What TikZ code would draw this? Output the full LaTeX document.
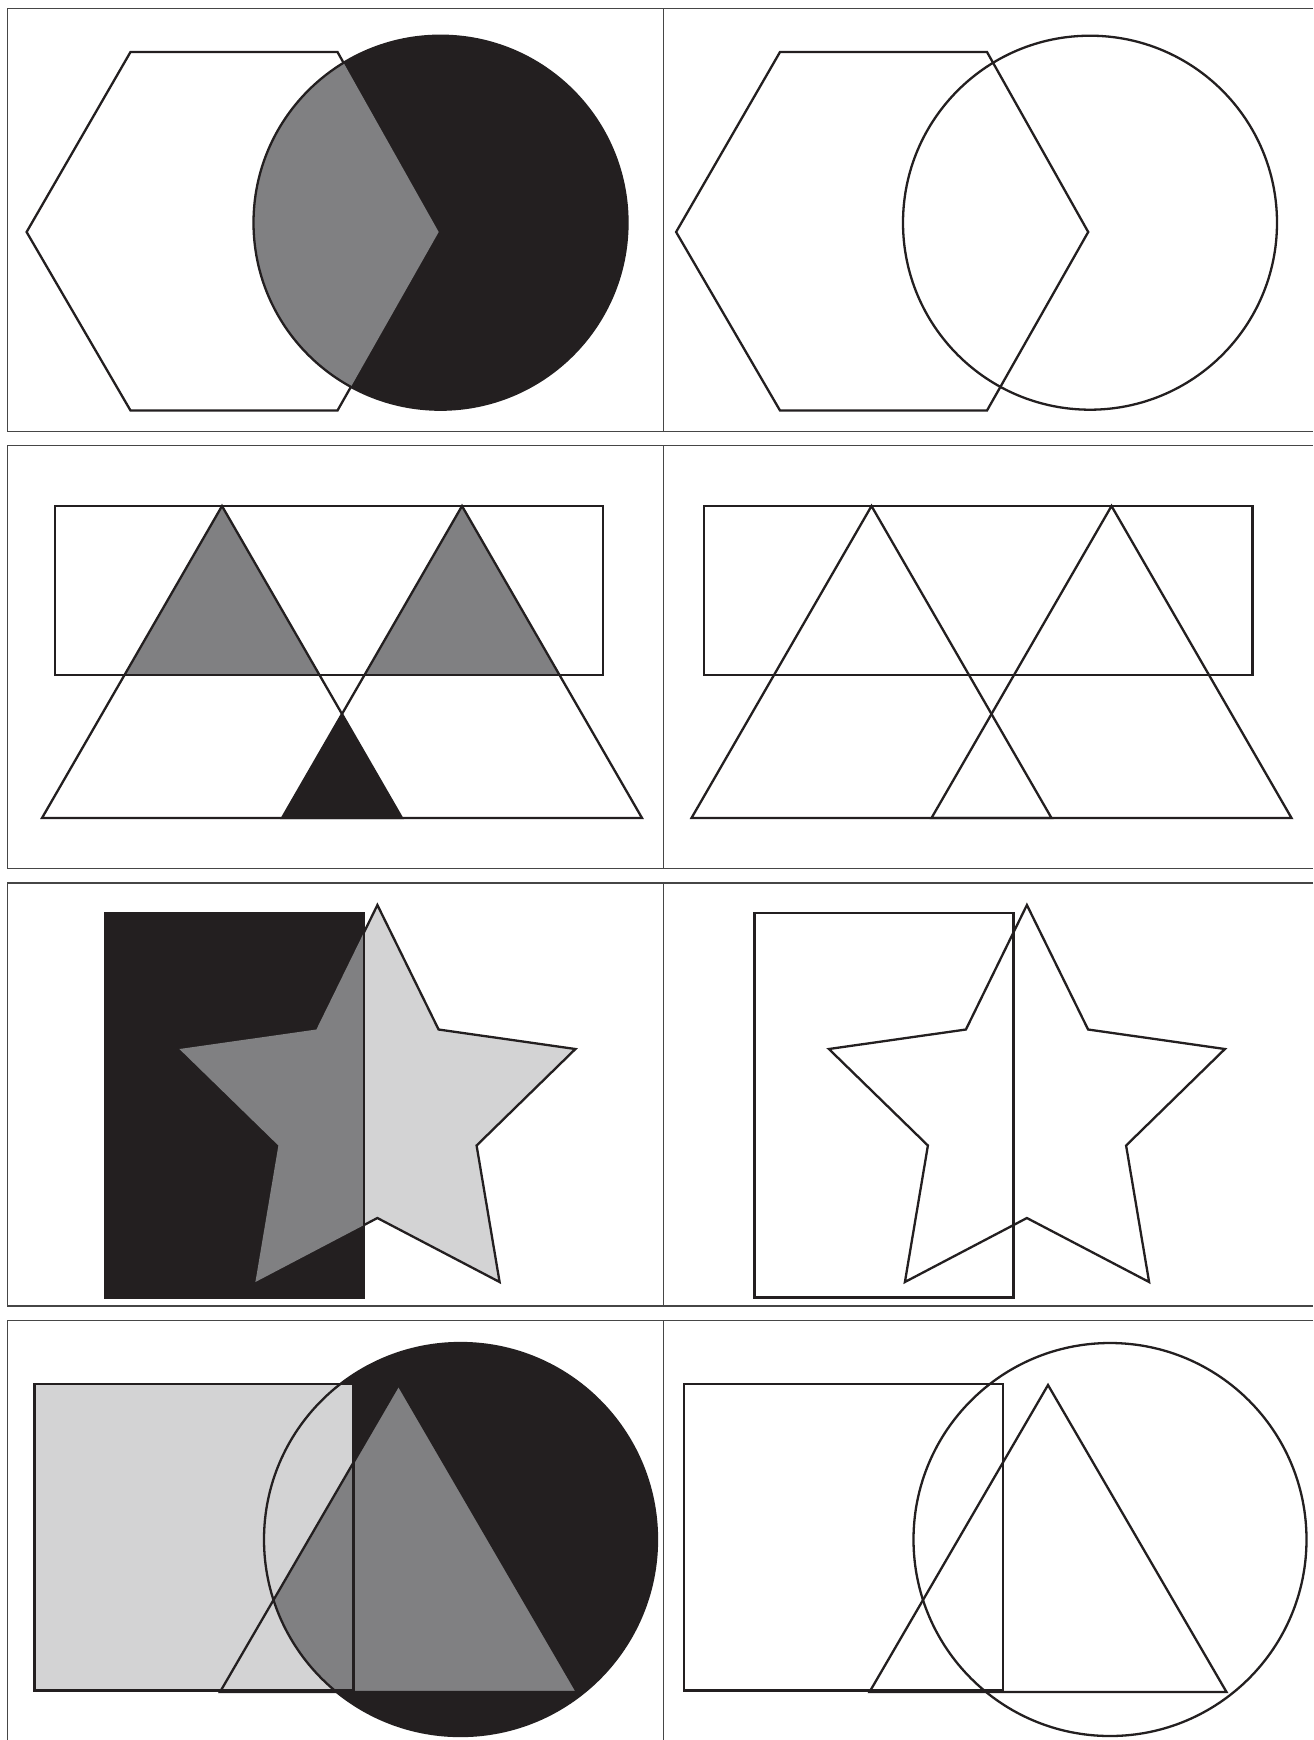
\documentclass[tikz,border=0pt]{standalone}
\definecolor{ink}{RGB}{35,31,32}
\definecolor{midgray}{RGB}{128,128,130}
\definecolor{paleg}{RGB}{211,211,212}
\definecolor{framegray}{RGB}{70,70,70}
\begin{document}
\begin{tikzpicture}[x=0.5pt,y=-0.5pt,
  outl/.style={draw=ink,line width=1.15pt,line join=miter},
  framel/.style={draw=framegray,line width=0.6pt}]
\useasboundingbox[fill=white] (0,0) rectangle (1313,1740);
% panel frames
\foreach \t/\b in {8.3/431.7, 445.3/868.7, 883/1306}{
  \draw[framel] (1313,\t) -- (7.6,\t) -- (7.6,\b) -- (1313,\b);
  \draw[framel] (663.5,\t) -- (663.5,\b);
}
\draw[framel] (7.6,1740) -- (7.6,1320.7) -- (1313,1320.7);
\draw[framel] (663.5,1320.7) -- (663.5,1740);
% shape paths
\def\hexP{(26.6,232) -- (130.5,52) -- (337.5,52) -- (438.7,232) -- (337.5,410.5) -- (130.5,410.5) -- cycle}
\def\circA{(440.5,222.7) circle[radius=187]}
\def\rectB{(54.7,506) rectangle (603,675)}
\def\triL{(222,506) -- (402,818) -- (42,818) -- cycle}
\def\triR{(462,506) -- (642,818) -- (282,818) -- cycle}
\def\rectC{(105,912.7) rectangle (364,1297.5)}
\def\starC{(377.4,905) -- (438.6,1029.5) -- (575.4,1049) -- (476.6,1145.5) -- (499.6,1282) -- (377.4,1218) -- (255.4,1282) -- (278.4,1145.5) -- (179.4,1049) -- (316.4,1029.5) -- cycle}
\def\rectD{(34.5,1384) rectangle (353.5,1690.5)}
\def\circD{(460.5,1539.5) circle[radius=196.5]}
\def\triD{(398.5,1385) -- (577,1692) -- (220,1692) -- cycle}
% ---------- row 1 ----------
\draw[outl] \hexP;
\fill[ink] \circA;
\begin{scope}\clip \hexP; \fill[midgray] \circA; \end{scope}
\draw[outl] \circA;
\begin{scope}[shift={(649.5,0)}]
  \draw[outl] \hexP;
  \draw[outl] \circA;
\end{scope}
% ---------- row 2 ----------
\begin{scope}\clip \rectB; \fill[midgray] \triL; \fill[midgray] \triR; \end{scope}
\begin{scope}\clip \triL; \fill[ink] \triR; \end{scope}
\draw[outl] \rectB;
\draw[outl] \triL;
\draw[outl] \triR;
\begin{scope}[shift={(649.5,0)}]
  \draw[outl] \rectB;
  \draw[outl] \triL;
  \draw[outl] \triR;
\end{scope}
% ---------- row 3 ----------
\fill[ink] \rectC;
\fill[paleg] \starC;
\draw[outl] \starC;
\begin{scope}\clip \rectC; \fill[midgray] \starC; \end{scope}
\draw[outl] \rectC;
\begin{scope}[shift={(649.5,0)}]
  \draw[outl] \rectC;
  \draw[outl] \starC;
\end{scope}
% ---------- row 4 ----------
\fill[ink] \circD;
\fill[paleg] \rectD;
\begin{scope}\clip \triD; \fill[midgray] \circD; \end{scope}
\draw[outl] \rectD;
\draw[outl] \circD;
\draw[outl] \triD;
\begin{scope}[shift={(649.5,0)}]
  \draw[outl] \rectD;
  \draw[outl] \circD;
  \draw[outl] \triD;
\end{scope}
\end{tikzpicture}
\end{document}
